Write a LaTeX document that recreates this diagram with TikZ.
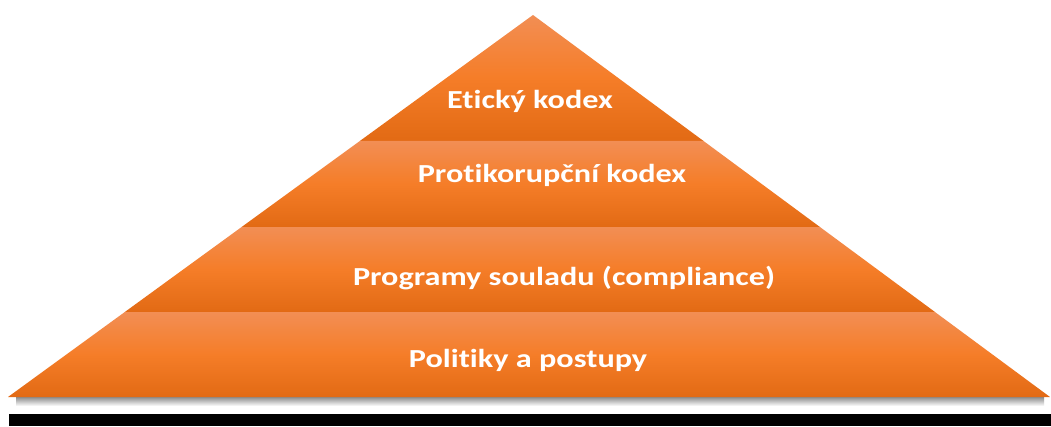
\documentclass[tikz,border=0pt]{standalone}
\usepackage{fontspec}
\setmainfont[Ligatures={NoCommon}]{Carlito}
\usetikzlibrary{calc}
\definecolor{otop}{RGB}{242,142,84}
\definecolor{omid}{RGB}{245,125,40}
\definecolor{obot}{RGB}{226,106,20}
\newcommand{\wide}[1]{\scalebox{1.24}[1]{#1}}
\tikzset{
  layer/.style={top color=otop, bottom color=obot, middle color=omid, draw=none},
  lbl/.style={anchor=base, text=white, font=\bfseries\fontsize{26}{30}\selectfont, inner sep=0pt}
}
\begin{document}
\begin{tikzpicture}[x=1pt,y=-1pt]
\useasboundingbox (0,0) rectangle (1051,426);
\fill[white] (0,0) rectangle (1051,426);
\coordinate (apex) at (533,15);
\coordinate (L) at (8,397);
\coordinate (R) at (1050,397);
% boundary points
\coordinate (l1) at ($(apex)!0.3298!(L)$);
\coordinate (r1) at ($(apex)!0.3298!(R)$);
\coordinate (l2) at ($(apex)!0.555!(L)$);
\coordinate (r2) at ($(apex)!0.555!(R)$);
\coordinate (l3) at ($(apex)!0.7775!(L)$);
\coordinate (r3) at ($(apex)!0.7775!(R)$);
% shadow under base
\shade[top color=black!45, bottom color=white] (16,397) rectangle (1044,406);
% layers
\shade[layer] (apex) -- (r1) -- (l1) -- cycle;
\shade[layer] (l1) -- (r1) -- (r2) -- (l2) -- cycle;
\shade[layer] (l2) -- (r2) -- (r3) -- (l3) -- cycle;
\shade[layer] (l3) -- (r3) -- (R) -- (L) -- cycle;
% black bar
\fill[black] (9,414) rectangle (1051,426);
% labels
\node[lbl] (t1) at (530,108) {\wide{Etický kodex}};
\node[lbl] (t2) at (552,182) {\wide{Protikorupční kodex}};
\node[lbl] (t3) at (564,285) {\wide{Programy souladu (compliance)}};
\node[lbl] (t4) at (528,367) {\wide{Politiky a postupy}};
\end{tikzpicture}
\end{document}
